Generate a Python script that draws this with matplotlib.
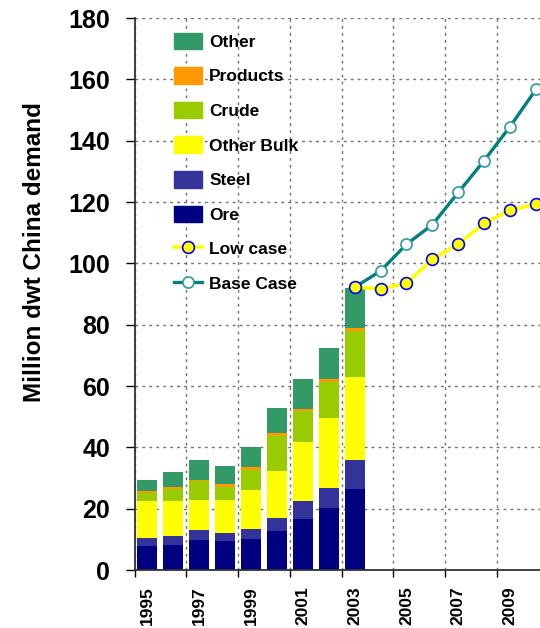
import matplotlib
matplotlib.use("Agg")
import matplotlib.pyplot as plt
from matplotlib.patches import Patch
from matplotlib.lines import Line2D
import numpy as np

years = list(range(1995, 2011))
bar_years = list(range(1995, 2004))
line_years = list(range(2003, 2011))

# stacked components (million dwt)
ore = [7.8, 8.2, 9.8, 9.5, 10.1, 12.7, 16.6, 20.2, 26.4]
steel = [2.6, 2.9, 3.2, 2.6, 3.3, 4.3, 5.9, 6.5, 9.5]
other_bulk = [12.1, 11.4, 9.8, 10.7, 12.7, 15.3, 19.2, 22.9, 27.0]
crude = [2.6, 4.0, 6.2, 4.3, 6.6, 11.5, 10.1, 11.7, 15.0]
products = [0.8, 0.5, 0.5, 1.1, 0.9, 0.9, 0.7, 1.0, 1.0]
other = [3.4, 5.0, 6.4, 5.7, 6.5, 8.1, 9.8, 10.1, 13.0]

low_case = [92.2, 91.7, 93.5, 101.3, 106.3, 113.0, 117.3, 119.3]
base_case = [92.2, 97.5, 106.2, 112.6, 123.1, 133.5, 144.6, 156.7]

series = [
    ("Ore", ore, "#000080"),
    ("Steel", steel, "#333399"),
    ("Other Bulk", other_bulk, "#FFFF00"),
    ("Crude", crude, "#99CC00"),
    ("Products", products, "#FF9900"),
    ("Other", other, "#339966"),
]

FONT = ["Liberation Sans", "DejaVu Sans"]

W, H = 540, 628
fig = plt.figure(figsize=(W / 100, H / 100), dpi=100)
ax = fig.add_axes([134.5 / W, 58 / H, 414.4 / W, 552 / H])

bx = np.array([years.index(y) for y in bar_years])
bottom = np.zeros(len(bar_years))
for name, vals, col in series:
    ax.bar(bx, vals, width=0.77, bottom=bottom, color=col, zorder=2)
    bottom += np.array(vals)

lx = np.array([years.index(y) for y in line_years])
ax.plot(lx, base_case, color="#008080", lw=2.4, marker="o", ms=8,
        mfc="white", mec="#2E9A9A", mew=1.2, zorder=3)
ax.plot(lx, low_case, color="#FFFF00", lw=2.6, marker="o", ms=8.5,
        mfc="#FFFF00", mec="#0000FF", mew=1.2, zorder=4)

ax.set_xlim(-0.5, len(years) - 0.5)
ax.set_ylim(0, 180)

# y axis
ax.set_yticks(np.arange(0, 181, 20))
ax.tick_params(axis="y", direction="out", length=6.5, width=1, pad=11,
               labelsize=18)
for t in ax.get_yticklabels():
    t.set_fontweight("bold")
    t.set_family(FONT)

# x axis: ticks on category boundaries, labels on odd-year centres
ax.set_xticks(np.arange(-0.5, len(years) - 1, 2))
ax.set_xticklabels([])
ax.set_xticks(np.arange(0, len(years), 2), minor=True)
ax.set_xticklabels([str(y) for y in years[::2]], minor=True, rotation=90,
                   fontsize=12.5, fontweight="bold", family=FONT)
ax.tick_params(axis="x", which="major", direction="out", length=5, width=1)
ax.tick_params(axis="x", which="minor", length=0, pad=11.5)

ax.grid(True, which="major", axis="both", color="#707070", ls=(0, (2, 3)),
        lw=1, zorder=1)
ax.set_axisbelow(True)

for s in ("top", "right"):
    ax.spines[s].set_visible(False)
for s in ("left", "bottom"):
    ax.spines[s].set_linewidth(1.3)
    ax.spines[s].set_color("#333333")

fig.text(35 / W, 1 - 252 / H, "Million dwt China demand", rotation=90,
         ha="center", va="center", fontsize=17.5, fontweight="bold",
         family=FONT)

handles = [Patch(color=c) for _, _, c in series[::-1]]
labels = [n for n, _, _ in series[::-1]]
handles += [
    Line2D([], [], color="#FFFF00", lw=2.6, marker="o", ms=8.5,
           mfc="#FFFF00", mec="#0000FF", mew=1.2),
    Line2D([], [], color="#008080", lw=2.4, marker="o", ms=8,
           mfc="white", mec="#2E9A9A", mew=1.2),
]
labels += ["Low case", "Base Case"]
leg = ax.legend(handles, labels, loc="upper left",
                bbox_to_anchor=(158 / W, 1 - 17 / H),
                bbox_transform=fig.transFigure, frameon=False,
                handlelength=1.65, handleheight=1.1, handletextpad=0.4,
                labelspacing=1.0,
                prop={"family": FONT, "weight": "bold", "size": 12.5})

fig.savefig("out.png", dpi=100)
